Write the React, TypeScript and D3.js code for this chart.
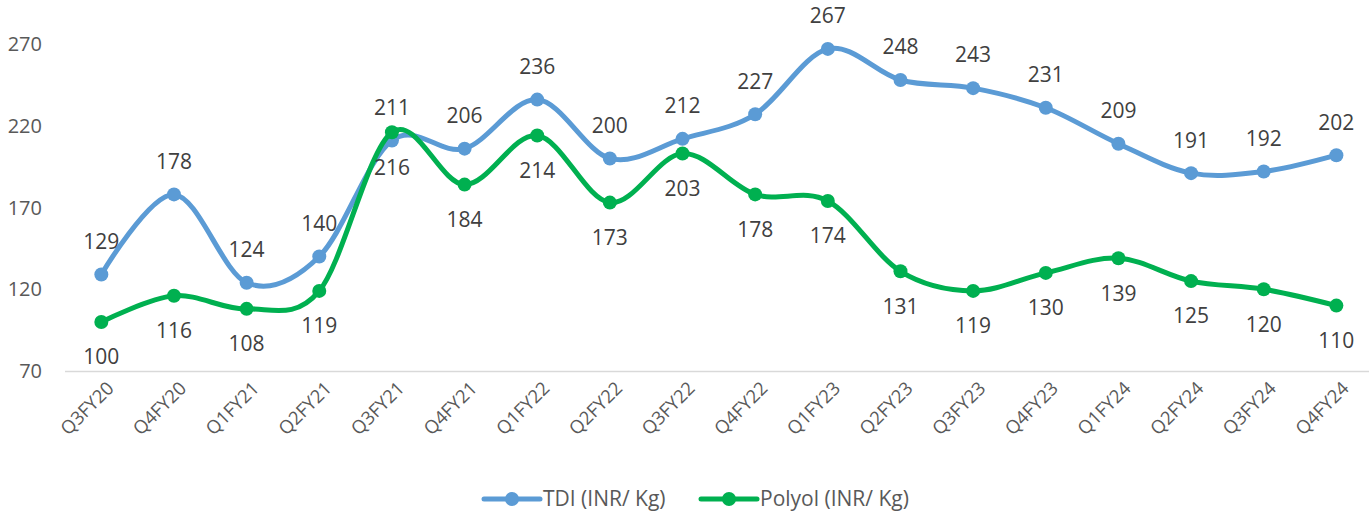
import React from "react";
import * as d3 from "d3";

const categories = ["Q3FY20","Q4FY20","Q1FY21","Q2FY21","Q3FY21","Q4FY21","Q1FY22","Q2FY22","Q3FY22","Q4FY22","Q1FY23","Q2FY23","Q3FY23","Q4FY23","Q1FY24","Q2FY24","Q3FY24","Q4FY24"];
const tdi = [129,178,124,140,211,206,236,200,212,227,267,248,243,231,209,191,192,202];
const polyol = [100,116,108,119,216,184,214,173,203,178,174,131,119,130,139,125,120,110];
const yTicks = [70,120,170,220,270];

const W = 1369, H = 517;
const FONT = "'Open Sans', 'Liberation Sans', sans-serif";
const TEXT = "#595959";
const BLUE = "#5B9BD5";
const GREEN = "#00B050";

export default function App() {
  const x = d3.scalePoint<string>().domain(categories).range([65, 65 + 18 * 72.65]).padding(0.5);
  const y = d3.scaleLinear().domain([70, 270]).range([371, 44]);
  const line = d3.line<number>()
    .x((_, i) => x(categories[i])!)
    .y((d) => y(d))
    .curve(d3.curveCardinal.tension(0));

  const series = [
    { name: "TDI (INR/ Kg)", values: tdi, color: BLUE, dy: -33 },
    { name: "Polyol (INR/ Kg)", values: polyol, color: GREEN, dy: 35 },
  ];

  return (
    <svg width={W} height={H} style={{ position: "absolute", left: 0, top: 0, background: "#fff" }} fontFamily={FONT}>
      <line x1={65} x2={1369} y1={371.5} y2={371.5} stroke="#D9D9D9" strokeWidth={1.5} />
      {yTicks.map((t) => (
        <text key={t} x={42} y={y(t)} dy="0.35em" textAnchor="end" fontSize={20} fill={TEXT}>{t}</text>
      ))}
      {categories.map((c) => {
        const cx = x(c)! + 9;
        const cy = 385;
        return (
          <text key={c} x={cx} y={cy} textAnchor="end" dy="0.35em" fontSize={18.5} fill={TEXT} transform={`rotate(-45 ${cx} ${cy})`}>{c}</text>
        );
      })}
      {series.map((s) => (
        <g key={s.name}>
          <path d={line(s.values)!} fill="none" stroke={s.color} strokeWidth={5} strokeLinecap="round" />
          {s.values.map((v, i) => (
            <circle key={i} cx={x(categories[i])!} cy={y(v)} r={7} fill={s.color} />
          ))}
        </g>
      ))}
      {series.map((s) => (
        <g key={s.name + "l"}>
          {s.values.map((v, i) => (
            <text key={i} x={x(categories[i])!} y={y(v) + s.dy} dy="0.35em" textAnchor="middle" fontSize={21} fill="#404040">{v}</text>
          ))}
        </g>
      ))}
      {[{ s: series[0], x0: 484 }, { s: series[1], x0: 701 }].map(({ s, x0 }) => (
        <g key={s.name + "leg"}>
          <line x1={x0} x2={x0 + 56} y1={499} y2={499} stroke={s.color} strokeWidth={5} strokeLinecap="round" />
          <circle cx={x0 + 28} cy={499} r={7} fill={s.color} />
          <text x={x0 + 59} y={499} dy="0.35em" fontSize={21} fill={TEXT}>{s.name}</text>
        </g>
      ))}
    </svg>
  );
}
